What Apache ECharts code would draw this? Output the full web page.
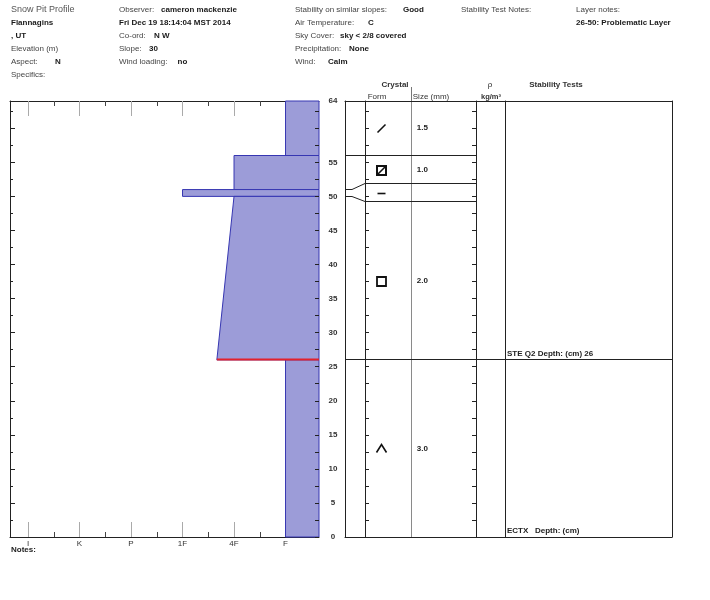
<!DOCTYPE html>
<html>
<head>
<meta charset="utf-8">
<title>Snow Pit Profile</title>
<script src="https://cdn.jsdelivr.net/npm/echarts@6/dist/echarts.min.js"></script>
<style>
  html, body { margin: 0; padding: 0; background: #fff; }
  #chart { width: 710px; height: 600px; }
</style>
</head>
<body>
<div id="chart"></div>
<script>
// ---- pit data -------------------------------------------------------------
// hand hardness classes, softest first (F = fist ... I = ice)
const hardnessNames = ['F', '4F', '1F', 'P', 'K', 'I'];

// layers, heights in cm above the ground
const layerTop    = [64, 56, 51, 50, 26];
const layerBottom = [56, 51, 50, 26, 0];
const hardTop     = ['F', '4F', '1F', '4F', 'F'];
const hardBottom  = ['F', '4F', '1F', '4F+', 'F'];
const grainForm   = ['DF', 'FCxr', 'IF', 'FC', 'DH'];
const grainSize   = ['1.5', '1.0', '', '2.0', '3.0'];

// stability tests (null depth = no result depth)
const testNames  = ['STE Q2', 'ECTX'];
const testDepths = [26, null];

// height labels on the profile axis
const depthLabels = [0, 5, 10, 15, 20, 25, 30, 35, 40, 45, 50, 55, 64];

// header fields: [label, value]
const pitColumn1 = [['Snow Pit Profile', ''], ['', 'Flannagins'], ['', ', UT'], ['Elevation (m)', ''], ['Aspect:', 'N'], ['Specifics:', '']];
const pitColumn2 = [['Observer:', 'cameron mackenzie'], ['', 'Fri Dec 19 18:14:04 MST 2014'], ['Co-ord:', 'N W'], ['Slope:', '30'], ['Wind loading:', 'no']];
const pitColumn3 = [['Stability on similar slopes:', 'Good'], ['Air Temperature:', 'C'], ['Sky Cover:', 'sky < 2/8 covered'], ['Precipitation:', 'None'], ['Wind:', 'Calm']];
const pitColumn4 = [['Stability Test Notes:', '']];
const pitColumn5 = [['Layer notes:', ''], ['', '26-50: Problematic Layer']];

// ---- layout ---------------------------------------------------------------
const FONT = "'Liberation Sans', Arial, sans-serif";
const H_MIN = 0.35, H_MAX = 6.35;      // hardness axis span
const D_MIN = 0, D_MAX = 64;           // height axis span
const TOP = 101, HEIGHT = 436;
const MIN_ROW = 2.65;                  // thinnest table row, cm
const FILL = '#9c9cd8', EDGE = '#3636b2', INK = '#222';

const headerColumns = [
  { data: pitColumn1, x: 11,  valueX: [11, 11, 11, 11, 55, 11] },
  { data: pitColumn2, x: 119, valueX: [161, 119, 154, 149, 177.5] },
  { data: pitColumn3, x: 295, valueX: [403, 368, 340, 349, 328] },
  { data: pitColumn4, x: 461, valueX: [461] },
  { data: pitColumn5, x: 576, valueX: [576, 576] }
];
const ROW_Y0 = 10, ROW_DY = 13;

// ---- helpers --------------------------------------------------------------
function hardValue(h) {
  let mod = 0;
  if (h.endsWith('+')) { mod = 1 / 3; h = h.slice(0, -1); }
  else if (h.endsWith('-')) { mod = -1 / 3; h = h.slice(0, -1); }
  return hardnessNames.indexOf(h) + 1 + mod;
}
const crisp = v => Math.round(v - 0.5) + 0.5;

// table rows: thin layers are widened and drawn with connectors
const rowTop = layerTop.slice(), rowBottom = layerBottom.slice();
layerTop.forEach((t, i) => {
  const b = layerBottom[i];
  if (t - b < MIN_ROW) {
    const c = (t + b) / 2;
    rowTop[i] = c + MIN_ROW / 2;
    rowBottom[i] = c - MIN_ROW / 2;
    if (i > 0) rowBottom[i - 1] = rowTop[i];
    if (i < layerTop.length - 1) rowTop[i + 1] = rowBottom[i];
  }
});
const boundaries = [];
for (let i = 1; i < layerTop.length; i++) boundaries.push([layerTop[i], rowTop[i]]);

const every = (step, from, to) => { const a = []; for (let v = from; v <= to + 1e-9; v += step) a.push(v); return a; };

// ---- axes -----------------------------------------------------------------
function plainAxis(extra) {
  return Object.assign({
    type: 'value', min: 0, max: 1,
    axisLine: { show: false, onZero: false }, axisTick: { show: false },
    axisLabel: { show: false }, splitLine: { show: false }
  }, extra);
}
function depthAxis(extra) {
  return plainAxis(Object.assign({ min: D_MIN, max: D_MAX }, extra));
}
const blackLine = { show: true, onZero: false, lineStyle: { color: INK, width: 1 } };
const hardAxis = extra => plainAxis(Object.assign({ min: H_MIN, max: H_MAX, inverse: true, gridIndex: 0 }, extra));

const xAxis = [
  hardAxis({ position: 'bottom', axisLine: blackLine,
    axisTick: { show: true, inside: true, length: 15, customValues: [1, 2, 3, 4, 5, 6], lineStyle: { color: '#aaa' } },
    axisLabel: { show: true, customValues: [1, 2, 3, 4, 5, 6], margin: 3,
      formatter: v => hardnessNames[Math.round(v) - 1], color: '#333', fontSize: 8, fontFamily: FONT } }),
  hardAxis({ position: 'bottom',
    axisTick: { show: true, inside: true, length: 5, customValues: [1.5, 2.5, 3.5, 4.5, 5.5], lineStyle: { color: '#444' } } }),
  hardAxis({ position: 'top', axisLine: blackLine,
    axisTick: { show: true, inside: true, length: 15, customValues: [1, 2, 3, 4, 5, 6], lineStyle: { color: '#aaa' } } }),
  hardAxis({ position: 'top',
    axisTick: { show: true, inside: true, length: 5, customValues: [1.5, 2.5, 3.5, 4.5, 5.5], lineStyle: { color: '#444' } } }),
  plainAxis({ gridIndex: 1, position: 'bottom', axisLine: blackLine }),
  plainAxis({ gridIndex: 1, position: 'top', axisLine: blackLine }),
  plainAxis({ gridIndex: 2 }),
  plainAxis({ gridIndex: 3 }),
  plainAxis({ gridIndex: 4 }),
  plainAxis({ gridIndex: 5 }),
  plainAxis({ gridIndex: 6 })
];

const yAxis = [
  depthAxis({ gridIndex: 0, position: 'left', axisLine: blackLine,
    axisTick: { show: true, inside: true, length: 5, customValues: every(5, 0, 60), lineStyle: { color: INK } } }),
  depthAxis({ gridIndex: 0, position: 'left',
    axisTick: { show: true, inside: true, length: 3, customValues: every(5, 2.5, 62.5), lineStyle: { color: INK } } }),
  depthAxis({ gridIndex: 0, position: 'right', z: 5,
    axisTick: { show: true, inside: true, length: 4, customValues: every(2.5, 0, 62.5), lineStyle: { color: INK } },
    axisLabel: { show: true, customValues: depthLabels, margin: 14, align: 'center',
      color: '#333', fontSize: 8, fontWeight: 'bold', fontFamily: FONT } }),
  depthAxis({ gridIndex: 1, position: 'left', axisLine: blackLine }),
  depthAxis({ gridIndex: 1, position: 'right', axisLine: blackLine }),
  depthAxis({ gridIndex: 2 }),
  depthAxis({ gridIndex: 3, position: 'left', axisLine: blackLine,
    axisTick: { show: true, inside: true, length: 4, customValues: every(2.5, 2.5, 62.5), lineStyle: { color: INK } } }),
  depthAxis({ gridIndex: 4, position: 'left', axisLine: { show: true, onZero: false, lineStyle: { color: '#8a8a8a', width: 1 } } }),
  depthAxis({ gridIndex: 5, position: 'left', axisLine: blackLine,
    axisTick: { show: true, inside: false, length: 4, customValues: every(2.5, 2.5, 62.5), lineStyle: { color: INK } } }),
  depthAxis({ gridIndex: 6, position: 'left', axisLine: blackLine })
];

const grid = [
  { left: 10,  top: TOP, width: 309, height: HEIGHT },   // hardness profile
  { left: 345, top: TOP, width: 327, height: HEIGHT },   // table frame
  { left: 345, top: TOP, width: 20,  height: HEIGHT },   // row connectors
  { left: 365, top: TOP, width: 46,  height: HEIGHT },   // grain form
  { left: 411, top: TOP, width: 65,  height: HEIGHT },   // grain size
  { left: 476, top: TOP, width: 29,  height: HEIGHT },   // density
  { left: 505, top: TOP, width: 167, height: HEIGHT }    // stability tests
];

// ---- series ---------------------------------------------------------------
const layerData = layerTop.map((t, i) => [t, layerBottom[i], hardValue(hardTop[i]), hardValue(hardBottom[i])]);

const hardnessSeries = {
  type: 'custom', coordinateSystem: 'cartesian2d', xAxisIndex: 0, yAxisIndex: 0,
  data: layerData, z: 2,
  renderItem(params, api) {
    const t = api.value(0), b = api.value(1), ht = api.value(2), hb = api.value(3);
    const pts = [api.coord([H_MIN, t]), api.coord([ht, t]), api.coord([hb, b]), api.coord([H_MIN, b])];
    return { type: 'polygon', shape: { points: pts }, style: { fill: FILL, stroke: EDGE, lineWidth: 1 } };
  }
};

// red marker where a stability test released, across the layer above it
const failureData = [];
testDepths.forEach(d => {
  if (d === null) return;
  const i = layerBottom.indexOf(d);
  if (i >= 0) failureData.push([d, hardValue(hardBottom[i])]);
});
const failureSeries = {
  type: 'custom', coordinateSystem: 'cartesian2d', xAxisIndex: 0, yAxisIndex: 0,
  data: failureData, z: 4,
  renderItem(params, api) {
    const d = api.value(0), h = api.value(1);
    const a = api.coord([h, d]), b = api.coord([H_MIN, d]);
    return { type: 'line', shape: { x1: a[0], y1: crisp(a[1]), x2: b[0], y2: crisp(b[1]) },
      style: { stroke: '#e3212b', lineWidth: 2 } };
  }
};

const connectorSeries = {
  type: 'custom', coordinateSystem: 'cartesian2d', xAxisIndex: 6, yAxisIndex: 5,
  data: boundaries,
  renderItem(params, api) {
    const a = api.value(0), d = api.value(1);
    const p0 = api.coord([0, a]), p1 = api.coord([0.35, a]), p2 = api.coord([1, d]);
    const pts = (a === d ? [p0, p2] : [p0, p1, p2]).map(p => [p[0], crisp(p[1])]);
    return { type: 'polyline', shape: { points: pts }, style: { stroke: INK, lineWidth: 1, fill: null } };
  }
};

function rowLineSeries(xi, yi) {
  return {
    type: 'custom', coordinateSystem: 'cartesian2d', xAxisIndex: xi, yAxisIndex: yi,
    data: boundaries,
    renderItem(params, api) {
      const d = api.value(1);
      const a = api.coord([0, d]), b = api.coord([1, d]);
      return { type: 'line', shape: { x1: a[0], y1: crisp(a[1]), x2: b[0], y2: crisp(b[1]) },
        style: { stroke: INK, lineWidth: 1 } };
    }
  };
}

function crystalShape(form, cx, cy) {
  const s = { stroke: '#111', lineWidth: 1.6, fill: null };
  switch (form) {
    case 'DF': return [{ type: 'line', shape: { x1: cx - 4, y1: cy + 4, x2: cx + 4, y2: cy - 4 }, style: s }];
    case 'FCxr': return [
      { type: 'rect', shape: { x: cx - 4.5, y: cy - 4.5, width: 9, height: 9 }, style: Object.assign({}, s, { lineWidth: 2 }) },
      { type: 'line', shape: { x1: cx - 4.5, y1: cy + 4.5, x2: cx + 4.5, y2: cy - 4.5 }, style: s }];
    case 'IF': return [{ type: 'line', shape: { x1: cx - 4, y1: cy, x2: cx + 4, y2: cy }, style: s }];
    case 'FC': return [{ type: 'rect', shape: { x: cx - 4.5, y: cy - 4.5, width: 9, height: 9 }, style: Object.assign({}, s, { lineWidth: 1.8 }) }];
    case 'DH': return [{ type: 'polyline', shape: { points: [[cx - 5, cy + 4], [cx, cy - 4], [cx + 5, cy + 4]] }, style: s }];
  }
  return [];
}

const rowCenters = rowTop.map((t, i) => (t + rowBottom[i]) / 2);

const crystalSeries = {
  type: 'custom', coordinateSystem: 'cartesian2d', xAxisIndex: 7, yAxisIndex: 6,
  data: rowCenters.map((c, i) => [0.35, c, i]),
  renderItem(params, api) {
    const p = api.coord([api.value(0), api.value(1)]);
    return { type: 'group', children: crystalShape(grainForm[api.value(2)], Math.round(p[0]) + 0.5, Math.round(p[1]) + 0.5) };
  }
};

const sizeSeries = {
  type: 'custom', coordinateSystem: 'cartesian2d', xAxisIndex: 8, yAxisIndex: 7,
  data: rowCenters.map((c, i) => [0.09, c, i]),
  renderItem(params, api) {
    const p = api.coord([api.value(0), api.value(1)]);
    return { type: 'text', x: p[0], y: p[1],
      style: { text: grainSize[api.value(2)], fill: '#222', font: 'bold 8px ' + FONT, align: 'left', verticalAlign: 'middle' } };
  }
};

const testData = testNames.map((n, i) => [testDepths[i] === null ? 0 : testDepths[i], i]);

const testLineDensity = {
  type: 'custom', coordinateSystem: 'cartesian2d', xAxisIndex: 9, yAxisIndex: 8,
  data: testData.filter((d, i) => testDepths[i] !== null),
  renderItem(params, api) {
    const d = api.value(0);
    const a = api.coord([0, d]), b = api.coord([1, d]);
    return { type: 'line', shape: { x1: a[0], y1: crisp(a[1]), x2: b[0], y2: crisp(b[1]) }, style: { stroke: INK, lineWidth: 1 } };
  }
};

const testSeries = {
  type: 'custom', coordinateSystem: 'cartesian2d', xAxisIndex: 10, yAxisIndex: 9,
  data: testData,
  renderItem(params, api) {
    const d = api.value(0), i = api.value(1);
    const a = api.coord([0, d]), b = api.coord([1, d]);
    const depth = testDepths[i];
    const label = testNames[i].padEnd(6, ' ') + ' Depth: (cm)' + (depth === null ? '' : ' ' + depth);
    const children = [{ type: 'text', x: a[0] + 2, y: a[1] - 2,
      style: { text: label, fill: '#222', font: 'bold 8px ' + FONT, align: 'left', verticalAlign: 'bottom' } }];
    if (depth !== null) {
      children.push({ type: 'line', shape: { x1: a[0], y1: crisp(a[1]), x2: b[0], y2: crisp(b[1]) }, style: { stroke: INK, lineWidth: 1 } });
    }
    return { type: 'group', children };
  }
};

// ---- header and captions --------------------------------------------------
const graphic = [];
function addText(x, y, text, weight, size, color, align) {
  graphic.push({ type: 'text', x, y, silent: true,
    style: { text, fill: color, font: (weight || 'normal') + ' ' + (size || 8) + 'px ' + FONT,
      align: align || 'left', verticalAlign: 'middle' } });
}
headerColumns.forEach(col => {
  col.data.forEach((row, r) => {
    const y = ROW_Y0 + r * ROW_DY;
    const [label, value] = row;
    if (label) {
      const isTitle = label === 'Snow Pit Profile';
      addText(col.x, y, label, 'normal', isTitle ? 9 : 8, isTitle ? '#555' : '#444');
    }
    if (value) addText(col.valueX[r], y, value, 'bold', 8, '#1a1a1a');
  });
});
addText(395, 85, 'Crystal', 'bold', 8, '#333', 'center');
addText(377, 97, 'Form', 'normal', 8, '#333', 'center');
addText(431, 97, 'Size (mm)', 'normal', 8, '#333', 'center');
addText(490, 85, 'ρ', 'normal', 8, '#333', 'center');
addText(491, 97, 'kg/m³', 'bold', 7.5, '#333', 'center');
addText(556, 85, 'Stability Tests', 'bold', 8, '#333', 'center');
addText(11, 550, 'Notes:', 'bold', 8, '#222');
graphic.push({ type: 'line', silent: true, shape: { x1: 411.5, y1: 87, x2: 411.5, y2: 101 }, style: { stroke: '#777', lineWidth: 1 } });

const option = {
  animation: false,
  backgroundColor: '#fff',
  grid, xAxis, yAxis, graphic,
  series: [
    hardnessSeries, failureSeries,
    connectorSeries, rowLineSeries(7, 6), rowLineSeries(8, 7),
    crystalSeries, sizeSeries, testLineDensity, testSeries
  ]
};

const chart = echarts.init(document.getElementById('chart'));
chart.setOption(option);
</script>
</body>
</html>
